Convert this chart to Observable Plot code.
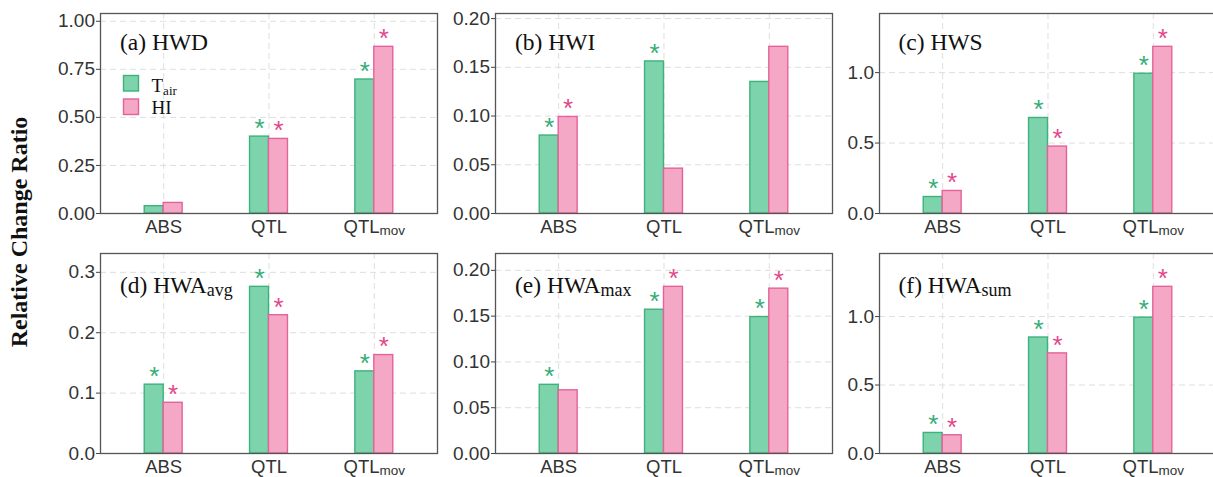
<!DOCTYPE html>
<html><head><meta charset="utf-8">
<script src="https://cdn.jsdelivr.net/npm/d3@7"></script>
<script src="https://cdn.jsdelivr.net/npm/@observablehq/plot@0.6"></script>
<style>
body{margin:0;background:#fff;}
#wrap{position:relative;width:1213px;height:477px;overflow:hidden;background:#fff;}
#wrap > svg{position:absolute;overflow:visible;}
</style></head><body><div id="wrap"></div>
<script>
// ---------------- data ----------------
const categories = ["ABS", "QTL", "QTLmov"];
const seriesNames = ["Tair", "HI"];
const panelMain = ["(a) HWD", "(b) HWI", "(c) HWS", "(d) HWA", "(e) HWA", "(f) HWA"];
const panelSub  = ["", "", "", "avg", "max", "sum"];

const tairA = [0.038, 0.400, 0.697], hiA = [0.055, 0.388, 0.867];
const tairB = [0.080, 0.156, 0.135], hiB = [0.099, 0.046, 0.171];
const tairC = [0.117, 0.678, 0.992], hiC = [0.160, 0.475, 1.183];
const tairD = [0.114, 0.276, 0.136], hiD = [0.084, 0.229, 0.163];
const tairE = [0.075, 0.157, 0.149], hiE = [0.069, 0.182, 0.180];
const tairF = [0.150, 0.847, 0.992], hiF = [0.133, 0.731, 1.217];

// significance (asterisk) flags
const sigTairA = [false, true, true],  sigHiA = [false, true, true];
const sigTairB = [true, true, false],  sigHiB = [true, false, false];
const sigTairC = [true, true, true],   sigHiC = [true, true, true];
const sigTairD = [true, true, true],   sigHiD = [true, true, true];
const sigTairE = [true, true, true],   sigHiE = [false, true, true];
const sigTairF = [true, true, true],   sigHiF = [true, true, true];

const ticksA = [0, 0.25, 0.5, 0.75, 1.0];
const ticksB = [0, 0.05, 0.10, 0.15, 0.20];
const ticksC = [0, 0.5, 1.0];
const ticksD = [0, 0.1, 0.2, 0.3];
const ticksE = [0, 0.05, 0.10, 0.15, 0.20];
const ticksF = [0, 0.5, 1.0];
const tickDecimals = [2, 2, 1, 1, 2, 1];

const yTitle = "Relative Change Ratio";

// ---------------- styles ----------------
const greenFill = "#7dd3ab", greenStroke = "#3db37b", greenStar = "#34ad77";
const pinkFill = "#f5a8c5", pinkStroke = "#e4629b", pinkStar = "#e2478c";
const sans = "'Liberation Sans', Arial, Helvetica, sans-serif";
const serif = "'Liberation Serif', 'Times New Roman', Times, serif";

const tairAll = [tairA, tairB, tairC, tairD, tairE, tairF];
const hiAll = [hiA, hiB, hiC, hiD, hiE, hiF];
const sigTAll = [sigTairA, sigTairB, sigTairC, sigTairD, sigTairE, sigTairF];
const sigHAll = [sigHiA, sigHiB, sigHiC, sigHiD, sigHiE, sigHiF];
const ticksAll = [ticksA, ticksB, ticksC, ticksD, ticksE, ticksF];

// layout
const colLeft = [100, 495, 878.5];
const rowTop = [13.3, 253.3];
const frameW = 337, frameH = 200;
const ML = 60, MR = 4, MT = 13, MB = 23;
const bw = frameW / 3.2 * 0.36;

const wrap = document.getElementById("wrap");
const ns = "http://www.w3.org/2000/svg";

for (let i = 0; i < 6; i++) {
  const rows = categories.map((c, j) => ({
    cat: c, tair: tairAll[i][j], hi: hiAll[i][j], sT: sigTAll[i][j], sH: sigHAll[i][j]
  }));
  const ymax = d3.max([...tairAll[i], ...hiAll[i]]) * 1.2;
  const dec = tickDecimals[i];
  const svg = Plot.plot({
    width: ML + frameW + MR, height: MT + frameH + MB,
    marginLeft: ML, marginRight: MR, marginTop: MT, marginBottom: MB,
    x: {type: "band", domain: categories, paddingInner: 0.64, paddingOuter: 0.42, round: false},
    y: {domain: [0, ymax]},
    style: {fontFamily: sans, fontSize: "19px", color: "#333", background: "transparent", overflow: "visible"},
    marks: [
      Plot.gridY(ticksAll[i], {stroke: "#dedede", strokeOpacity: 1, strokeDasharray: "6,4", strokeWidth: 1}),
      Plot.gridX({stroke: "#dedede", strokeOpacity: 1, strokeDasharray: "6,4", strokeWidth: 1}),
      Plot.barY(rows, {x: "cat", y: "tair", insetRight: bw / 2, fill: greenFill, stroke: greenStroke, strokeWidth: 1.4}),
      Plot.barY(rows, {x: "cat", y: "hi", insetLeft: bw / 2, fill: pinkFill, stroke: pinkStroke, strokeWidth: 1.4}),
      Plot.text(rows.filter(d => d.sT), {x: "cat", y: "tair", text: () => "*", dx: -bw / 4, dy: -8, fill: greenStar, fontSize: 26, fontFamily: sans}),
      Plot.text(rows.filter(d => d.sH), {x: "cat", y: "hi", text: () => "*", dx: bw / 4, dy: -8, fill: pinkStar, fontSize: 26, fontFamily: sans}),
      Plot.frame({stroke: "#555", strokeWidth: 1.3}),
      Plot.axisY(ticksAll[i], {tickSize: 4, tickPadding: 1.5, tickFormat: d => d.toFixed(dec), fontSize: 19, label: null, stroke: "#444"}),
      Plot.axisX({tickSize: 0, tickPadding: 6, label: null, fontSize: 18.5})
    ]
  });
  // subscript in the QTLmov tick label
  svg.querySelectorAll("text").forEach(t => {
    if (t.textContent === "QTLmov") {
      t.textContent = "QTL";
      const ts = document.createElementNS(ns, "tspan");
      ts.setAttribute("font-size", "13.5");
      ts.setAttribute("dy", "2.5");
      ts.textContent = "mov";
      t.appendChild(ts);
    }
  });
  const col = i % 3, row = Math.floor(i / 3);
  svg.style.left = (colLeft[col] - ML) + "px";
  svg.style.top = (rowTop[row] - MT) + "px";
  wrap.appendChild(svg);
}

// overlay: titles, legend, y title
const ov = d3.select(wrap).append("svg")
  .attr("width", 1213).attr("height", 477)
  .style("left", "0px").style("top", "0px").style("pointer-events", "none");

for (let i = 0; i < 6; i++) {
  const col = i % 3, row = Math.floor(i / 3);
  const t = ov.append("text")
    .attr("x", colLeft[col] + 20)
    .attr("y", rowTop[row] + (row === 0 ? 37 : 39.5))
    .attr("font-family", serif).attr("font-size", 23.5).attr("fill", "#111")
    .text(panelMain[i]);
  if (panelSub[i]) {
    t.append("tspan").attr("font-size", 18).attr("dy", 3).text(panelSub[i]);
  }
}

// legend in panel (a)
const legendFill = [greenFill, pinkFill], legendStroke = [greenStroke, pinkStroke];
seriesNames.forEach((s, k) => {
  ov.append("rect").attr("x", 123.5).attr("y", 75.5 + k * 23.5).attr("width", 15).attr("height", 15.5)
    .attr("fill", legendFill[k]).attr("stroke", legendStroke[k]).attr("stroke-width", 1.4);
  const t = ov.append("text").attr("x", 151.5).attr("y", 92 + k * 22)
    .attr("font-family", serif).attr("font-size", 19).attr("fill", "#111");
  if (s === "Tair") {
    t.text("T");
    t.append("tspan").attr("font-size", 13).attr("dy", 3).text("air");
  } else {
    t.text(s);
  }
});

ov.append("text")
  .attr("transform", "translate(27,232) rotate(-90)")
  .attr("text-anchor", "middle")
  .attr("font-family", serif).attr("font-weight", "bold").attr("font-size", 24).attr("fill", "#111")
  .text(yTitle);
</script>
</body></html>
